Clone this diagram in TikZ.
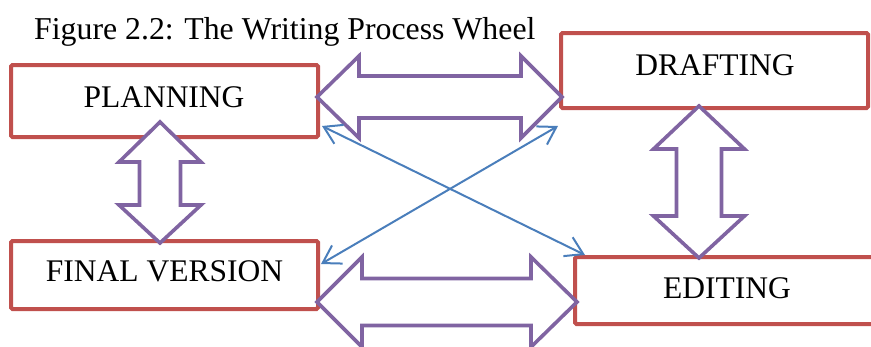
\documentclass[tikz,border=0pt]{standalone}
\usepackage{fontspec}
\setmainfont{Liberation Serif}
\usetikzlibrary{arrows.meta,calc}
\definecolor{boxred}{HTML}{C0504D}
\definecolor{arrpurple}{HTML}{8064A2}
\definecolor{linkblue}{HTML}{4A7EBB}
\tikzset{
  stagebox/.style={draw=boxred, line width=4pt, rounded corners=1.5pt, fill=white, inner sep=0pt},
  stagetext/.style={font=\fontsize{31.5}{36}\selectfont, inner sep=0pt, anchor=base},
  blockarrow/.style={draw=arrpurple, fill=white, line width=3.6pt, line join=miter},
  vtip/.tip={Straight Barb[length=17pt,width=21pt,line width=2pt]},
  link/.style={draw=linkblue, line width=2pt, vtip-vtip}
}
% horizontal double block arrow: tipA x, tipB x, centre y, head length A, head length B, shaft half, head half
\newcommand\hblockarrow[7]{%
  \draw[blockarrow] (#1,#3) -- (#1+#4,#3-#7) -- (#1+#4,#3-#6) -- (#2-#5,#3-#6) -- (#2-#5,#3-#7) -- (#2,#3)
   -- (#2-#5,#3+#7) -- (#2-#5,#3+#6) -- (#1+#4,#3+#6) -- (#1+#4,#3+#7) -- cycle;}
% vertical double block arrow: centre x, tipA y, tipB y, head length A, head length B, shaft half, head half
\newcommand\vblockarrow[7]{%
  \draw[blockarrow] (#1,#2) -- (#1+#7,#2+#4) -- (#1+#6,#2+#4) -- (#1+#6,#3-#5) -- (#1+#7,#3-#5) -- (#1,#3)
   -- (#1-#7,#3-#5) -- (#1-#6,#3-#5) -- (#1-#6,#2+#4) -- (#1-#7,#2+#4) -- cycle;}
\begin{document}
\begin{tikzpicture}[x=1pt,y=-1pt]
\useasboundingbox (0,0) rectangle (871,346);
\clip (0,0) rectangle (871,346);
\node[font=\fontsize{31.8}{36}\selectfont, inner sep=0pt, anchor=base west] (title) at (34,39) {Figure 2.2: The Writing Process Wheel};
% boxes
\node[stagebox, minimum width=307pt, minimum height=72pt] (plan) at (164.5,101) {};
\node[stagebox, minimum width=307pt, minimum height=68pt] (final) at (164.5,275) {};
\node[stagebox, minimum width=307pt, minimum height=75pt] (draft) at (714.5,70.5) {};
\node[stagebox, minimum width=310pt, minimum height=67pt] (edit) at (730,290.5) {};
% texts
\node[stagetext] (plant) at (164,107) {PLANNING};
\node[stagetext] (finalt) at (164.5,281) {FINAL VERSION};
\node[stagetext] (draftt) at (715,75) {DRAFTING};
\node[stagetext] (editt) at (727,298) {EDITING};
% block arrows
\hblockarrow{317}{562}{97}{42}{41}{21}{41}
\hblockarrow{317}{577}{302}{45}{46}{23.5}{45}
\vblockarrow{160}{122}{243}{40}{38}{20.5}{41}
\vblockarrow{699}{106}{258}{43}{42}{22.5}{45.5}
% blue links
\coordinate (pl) at ($(plan.south east)+(2,-13)$);
\coordinate (ed) at ($(edit.north west)+(12,0)$);
\coordinate (fi) at ($(final.north east)+(1,25)$);
\coordinate (dr) at ($(draft.south west)+(-1,16)$);
\draw[link] (pl) -- (ed);
\draw[link] (fi) -- (dr);
\end{tikzpicture}
\end{document}
